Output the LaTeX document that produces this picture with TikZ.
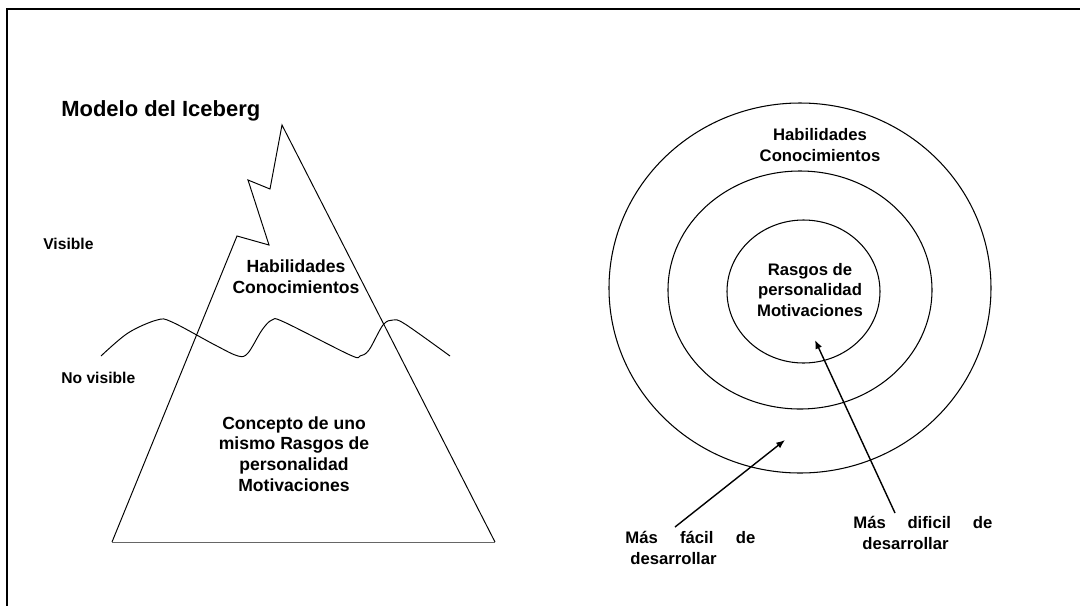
\documentclass[tikz,border=0pt]{standalone}
\usepackage{fontspec}
\setmainfont{Liberation Sans}
\usetikzlibrary{arrows.meta, positioning}

\begin{document}
\begin{tikzpicture}[
    x=0.02cm, y=-0.02cm,
    label/.style={font=\bfseries\fontsize{10}{11.8}\selectfont, align=center, inner sep=0pt},
    ringlabel/.style={font=\bfseries\fontsize{9.5}{11.9}\selectfont, align=center, inner sep=0pt},
    side/.style={font=\bfseries\fontsize{8.9}{10.5}\selectfont, inner sep=0pt, anchor=base west},
    note/.style={font=\bfseries\fontsize{9.5}{11.9}\selectfont, align=left, inner sep=0pt, anchor=north west},
    ring/.style={draw, line width=0.6pt},
    edge/.style={line width=0.55pt, line join=miter},
    arrow/.style={-{Latex[length=5pt,width=4pt]}, line width=0.8pt}
]
    \useasboundingbox (0,0) rectangle (1080,606);
    % Frame
    \draw[line width=1.1pt] (7,606) -- (7,9) -- (1080,9);

    % Iceberg
    \node[font=\bfseries\fontsize{12.5}{15}\selectfont, anchor=base west, inner sep=0pt] (title) at (61,116) {Modelo del Iceberg};
    \draw[edge] (112,542) -- (237,236) -- (269,245) -- (248,180) -- (270,189) -- (282,125) -- (495,542);
    \draw[edge, black!60] (112,542) -- (495,542);
    \draw[edge] plot[smooth, tension=0.55] coordinates {(101,356) (128,333) (157,320) (172,322) (215,345) (238,356) (248,353) (262,330) (272,320) (284,322) (350,355) (360,356) (369,350) (383,325) (393,320) (405,324) (450,356)};
    \node[side] (visible) at (43,249) {Visible};
    \node[side] (novisible) at (61,383) {No visible};
    \node[label] (surface) at (296,277) {Habilidades\\Conocimientos};
    \node[label] (depth) at (294,454) {Concepto de uno\\mismo Rasgos de\\personalidad\\Motivaciones};

    % Rings
    \draw[ring] (800,288) ellipse [x radius=191, y radius=185];
    \draw[ring] (800,290) ellipse [x radius=132, y radius=119];
    \draw[ring] (803.5,291.5) ellipse [x radius=76.5, y radius=71.5];
    \node[ringlabel] (outer) at (820,145) {Habilidades\\Conocimientos};
    \node[ringlabel] (inner) at (810,290) {Rasgos de\\personalidad\\Motivaciones};

    % Arrows
    \node[note] (facil) at (625,531) {\makebox[2.6cm][s]{Más fácil de}\\\hspace{0.1cm}desarrollar};
    \node[note] (dificil) at (853,516) {\makebox[2.78cm][s]{Más dificil de}\\\hspace{0.18cm}desarrollar};
    \coordinate (facilfrom) at (675,527);
    \coordinate (facilto) at (785,440);
    \coordinate (dificilfrom) at (895,513);
    \coordinate (dificilto) at (815,340);
    \draw[arrow] (facilfrom) -- (facilto);
    \draw[arrow] (dificilfrom) -- (dificilto);
\end{tikzpicture}
\end{document}
